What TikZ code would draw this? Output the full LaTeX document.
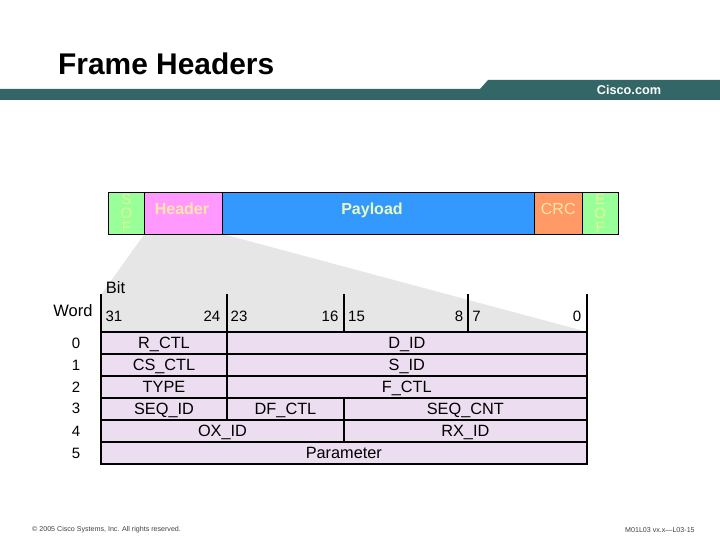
\documentclass[tikz,border=0pt]{standalone}
\usepackage{fontspec}
\setmainfont{Liberation Sans}
\usepackage{tikz}
\usepackage{xcolor}
\usetikzlibrary{positioning, backgrounds}
\definecolor{cBar}{RGB}{51,102,102}
\definecolor{cGreen}{RGB}{153,255,153}
\definecolor{cPink}{RGB}{255,153,255}
\definecolor{cBlue}{RGB}{51,153,255}
\definecolor{cOrange}{RGB}{255,153,102}
\definecolor{cCell}{RGB}{236,221,240}
\definecolor{cShade}{RGB}{230,230,230}
\definecolor{cPale}{RGB}{255,230,170}
\definecolor{cPaleG}{RGB}{225,245,150}
\definecolor{cPaleB}{RGB}{230,250,190}
\tikzset{
	% frame strip
	frm/.style    ={rectangle, draw=black, line width=1pt, outer sep=0pt, inner sep=0pt, minimum height=41.5pt, align=center},
	% table cells
	cell/.style   ={rectangle, draw=black, line width=2pt, outer sep=0pt, inner sep=0pt, minimum height=22.1pt, fill=cCell, text height=11pt, text depth=0pt, font=\fontsize{16.3}{18}\selectfont},
	rule/.style   ={draw=black, line width=2pt},
	lbl/.style    ={inner sep=0pt, font=\fontsize{15}{18}\selectfont},
	foot/.style   ={inner sep=0pt, anchor=west, text=black!75, font=\fontsize{7.1}{8}\selectfont},
}
\begin{document}
\begin{tikzpicture}[x=1pt, y=-1pt, node distance=0pt]
			\useasboundingbox (0,0) rectangle (720,540);
			% banner
			\fill[cBar] (0,89) -- (480,89) -- (488,80) -- (720,80) -- (720,100) -- (0,100) -- cycle;
			\node[inner sep=0pt, anchor=west, font=\fontsize{29.9}{34}\bfseries\selectfont] (title) at (58,64) {Frame Headers};
			\node[inner sep=0pt, text=white, font=\fontsize{12.7}{15}\bfseries\selectfont] (cisco) at (629,90) {Cisco.com};
			% frame strip
			\node[frm, anchor=north west, fill=cGreen, minimum width=36pt, text=cPaleG, font=\fontsize{15}{14}\selectfont] (sof) at (108.5,192.5) {S\\O\\F};
			\node[frm, right=of sof, fill=cPink, minimum width=78pt, text=cPale, font=\fontsize{16}{18}\bfseries\selectfont] (header) {\raisebox{9pt}{Header\hspace{3pt}}};
			\node[frm, right=of header, fill=cBlue, minimum width=312pt, text=cPaleB, font=\fontsize{16}{18}\bfseries\selectfont] (payload) {\raisebox{9pt}{Payload\hspace{13pt}}};
			\node[frm, right=of payload, fill=cOrange, minimum width=47.5pt, text=cPale, font=\fontsize{16}{18}\selectfont] (crc) {\raisebox{9pt}{CRC}};
			\node[frm, right=of crc, fill=cGreen, minimum width=36.5pt, text=cPaleG, font=\fontsize{15}{14}\selectfont] (eof) {E\\O\\F};
			% table
			\node[cell, anchor=north west, minimum width=126pt] (rctl) at (101,331.7) {R\_CTL};
			\node[cell, right=of rctl, minimum width=359.7pt] (did) {D\_ID};
			\node[cell, below=of rctl, minimum width=126pt] (csctl) {CS\_CTL};
			\node[cell, right=of csctl, minimum width=359.7pt] (sid) {S\_ID};
			\node[cell, below=of csctl, minimum width=126pt] (type) {TYPE};
			\node[cell, right=of type, minimum width=359.7pt] (fctl) {F\_CTL};
			\node[cell, below=of type, minimum width=126pt] (seqid) {SEQ\_ID};
			\node[cell, right=of seqid, minimum width=117pt] (dfctl) {DF\_CTL};
			\node[cell, right=of dfctl, minimum width=242.7pt] (seqcnt) {SEQ\_CNT};
			\node[cell, below=of seqid, anchor=north west, xshift=-63pt, minimum width=243pt] (oxid) {OX\_ID};
			\node[cell, right=of oxid, minimum width=242.7pt] (rxid) {RX\_ID};
			\node[cell, below=of oxid, anchor=north west, xshift=-121.5pt, minimum width=485.7pt] (param) {Parameter};
			% bit ticks
			\coordinate (t16) at (344,331.7);
			\coordinate (t8) at (467.7,331.7);
			\draw[rule] (rctl.north west) -- ++(0,-37.7);
			\draw[rule] (rctl.north east) -- ++(0,-37.7);
			\draw[rule] (t16) -- ++(0,-37.7);
			\draw[rule] (t8) -- ++(0,-37.7);
			\draw[rule] (did.north east) -- ++(0,-37.7);
			% labels
			\node[lbl, font=\fontsize{16.5}{18}\selectfont] (bit) at (115.5,288) {Bit};
			\node[lbl, font=\fontsize{16.5}{18}\selectfont] (word) at (73,311) {Word};
			\node[lbl] (b31) at (114,316) {31};
			\node[lbl] (b24) at (212,316) {24};
			\node[lbl] (b23) at (239,316) {23};
			\node[lbl] (b16) at (330,316) {16};
			\node[lbl] (b15) at (356.5,316) {15};
			\node[lbl] (b8) at (459,316) {8};
			\node[lbl] (b7) at (476.5,316) {7};
			\node[lbl] (b0) at (577,316) {0};
			\foreach \w/\yy in {0/343,1/365,2/387,3/408.5,4/431,5/453.5}
				\node[lbl] (w\w) at (76,\yy) {\w};
			% footer
			\node[foot] (copy) at (32,530) {© 2005 Cisco Systems, Inc. All rights reserved.};
			\node[foot] (code) at (625,530) {M01L03 vx.x—L03-15};
			\begin{scope}[on background layer]
				\fill[cShade] (sof.south east) -- (header.south east) -- (did.north east) -- (rctl.north west) -- ++(0,-37) -- cycle;
			\end{scope}
		\end{tikzpicture}
\end{document}
